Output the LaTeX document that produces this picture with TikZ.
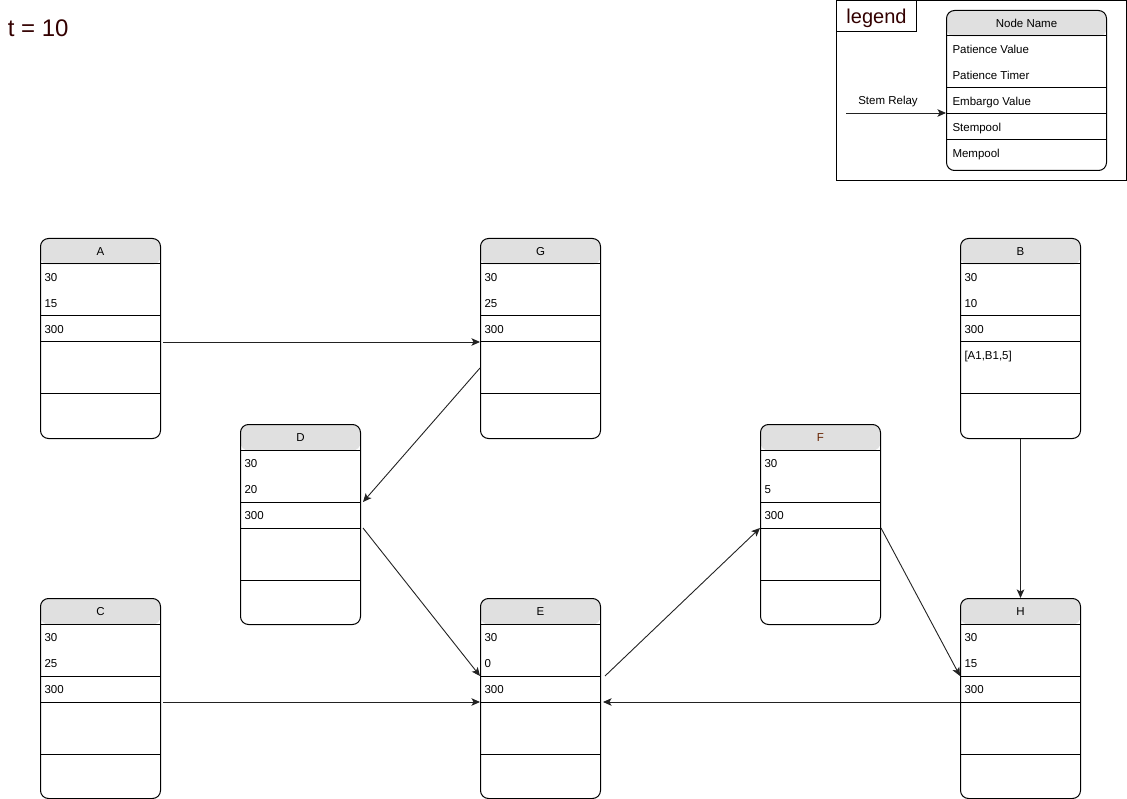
\documentclass[tikz,border=0pt]{standalone}
\usepackage{fontspec}
\setmainfont{Liberation Sans}
\usetikzlibrary{positioning, arrows.meta, calc}
\definecolor{hdr}{HTML}{E0E0E0}
\definecolor{ttl}{HTML}{330000}
\definecolor{fttl}{HTML}{662200}
\definecolor{lnk}{HTML}{222222}

% relay box: name, top left, title, patience value, patience timer, embargo, stempool
\newcommand{\relaybox}[7]{%
  \node[box](#1) at (#2){};
  \foreach \d in {26,78,104,156}{\draw ([yshift=-\d pt]#1.north west) -- ([yshift=-\d pt]#1.north east);}
  \node[cell,anchor=center](#1-t) at ([yshift=-13pt]#1.north){#3};
  \node[cell](#1-pv) at ([xshift=4pt,yshift=-39pt]#1.north west){#4};
  \node[cell](#1-pt) at ([xshift=4pt,yshift=-65pt]#1.north west){#5};
  \node[cell](#1-ev) at ([xshift=4pt,yshift=-91pt]#1.north west){#6};
  \node[cell](#1-sp) at ([xshift=4pt,yshift=-117pt]#1.north west){#7};
  \coordinate (#1-l78) at ([yshift=-78pt]#1.north west);
  \coordinate (#1-l104) at ([yshift=-104pt]#1.north west);
  \coordinate (#1-l130) at ([yshift=-130pt]#1.north west);
  \coordinate (#1-r78) at ([yshift=-78pt]#1.north east);
  \coordinate (#1-r104) at ([yshift=-104pt]#1.north east);
}

\begin{document}
\begin{tikzpicture}[x=1pt,y=-1pt,line width=1pt,
  font=\fontsize{11.5}{13}\selectfont,
  >={Stealth[length=8.5pt,width=7.5pt,inset=2pt]},
  box/.style={draw,rounded corners=8pt,anchor=north west,inner sep=0pt,minimum width=120pt,minimum height=200pt,
    path picture={\fill[hdr] (path picture bounding box.north west) rectangle ([yshift=-26pt]path picture bounding box.north east);}},
  cell/.style={anchor=west,inner sep=0pt,text height=9pt,text depth=0pt},
  rel/.style={->,draw=lnk,line width=0.9pt}]
  \useasboundingbox (0,0) rectangle (1127,799);

  \node[anchor=west,text=ttl,font=\fontsize{24}{28}\selectfont](time) at (4,28){t = 10};

  % legend
  \node[draw,anchor=north west,minimum width=290pt,minimum height=180pt,inner sep=0pt](key) at (836,0){};
  \node[draw,anchor=north west,minimum width=80pt,minimum height=31pt,inner sep=0pt,text height=15pt,text depth=0pt,
    text=ttl,font=\fontsize{20}{24}\selectfont](keyname) at (836,0){legend};
  \node[box,minimum width=160pt,minimum height=160pt](lg) at (946,10){};
  \foreach \d in {26,78,104,130}{\draw ([yshift=-\d pt]lg.north west) -- ([yshift=-\d pt]lg.north east);}
  \node[cell,anchor=center](lg-t) at ([yshift=-13pt]lg.north){Node Name};
  \node[cell](lg-pv) at ([xshift=6pt,yshift=-39pt]lg.north west){Patience Value};
  \node[cell](lg-pt) at ([xshift=6pt,yshift=-65pt]lg.north west){Patience Timer};
  \node[cell](lg-ev) at ([xshift=6pt,yshift=-91pt]lg.north west){Embargo Value};
  \node[cell](lg-sp) at ([xshift=6pt,yshift=-117pt]lg.north west){Stempool};
  \node[cell](lg-mp) at ([xshift=6pt,yshift=-143pt]lg.north west){Mempool};
  \coordinate (sr) at (846,113);
  \draw[rel] (sr) -- (sr-|lg.west);
  \node[cell,anchor=center](srlabel) at (888,100){Stem Relay};

  % relay nodes
  \relaybox{A}{40,238}{A}{30}{15}{300}{}
  \relaybox{G}{480,238}{G}{30}{25}{300}{}
  \relaybox{B}{960,238}{B}{30}{10}{300}{[A1,B1,5]}
  \relaybox{D}{240,424}{D}{30}{20}{300}{}
  \relaybox{F}{760,424}{\color{fttl}F}{30}{5}{300}{}
  \relaybox{C}{40,598}{C}{30}{25}{300}{}
  \relaybox{E}{480,598}{E}{30}{0}{300}{}
  \relaybox{H}{960,598}{H}{30}{15}{300}{}

  \draw[rel] ([xshift=2pt]A-r104) -- (G-l104);
  \draw[rel] (G-l130) -- ([xshift=2pt]D-r78);
  \draw[rel] ([xshift=2pt]D-r104) -- (E-l78);
  \draw[rel] ([xshift=2pt]C-r104) -- (E-l104);
  \draw[rel] ([xshift=4pt]E-r78) -- (F-l104);
  \draw[rel] (F-r104) -- (H-l78);
  \draw[rel] (B.south) -- (H.north);
  \draw[rel] (H-l104) -- ([xshift=2pt]E-r104);
\end{tikzpicture}
\end{document}
